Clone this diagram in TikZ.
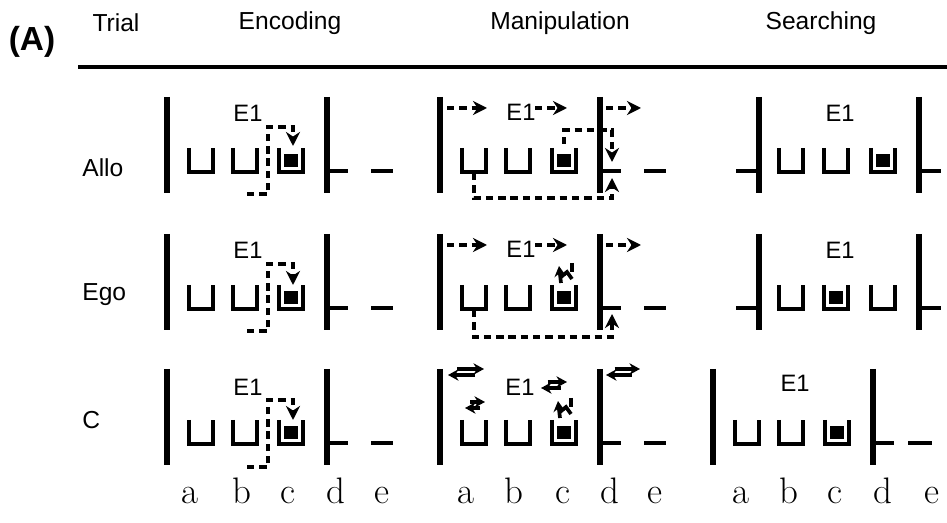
\documentclass[tikz,border=0pt]{standalone}
\usepackage{fontspec}
\setsansfont{Liberation Sans}
\usetikzlibrary{arrows.meta}

\tikzset{
  wall/.style={line width=3.4pt},
  rim/.style={line width=2.1pt},
  route/.style={line width=1.8pt, dash pattern=on 4.2pt off 2.8pt},
  headed/.style={-{Stealth[length=8pt,width=8pt]}},
  smallhead/.style={-{Stealth[length=6pt,width=6.5pt]}},
  heading/.style={font=\sffamily\fontsize{14}{16}\selectfont},
  panelmark/.style={font=\sffamily\bfseries\fontsize{19}{22}\selectfont},
  rowname/.style={font=\sffamily\fontsize{14}{16}\selectfont, anchor=west, inner sep=0pt},
  envname/.style={font=\sffamily\fontsize{13.5}{15}\selectfont},
  place/.style={font=\fontsize{21}{24}\selectfont, anchor=base}
}

\newcommand\wellcup[2]{\draw[rim] (#1-12,#2-24) -- (#1-12,#2) -- (#1+12,#2) -- (#1+12,#2-24);}
\newcommand\wellbait[2]{\fill (#1-7,#2-18) rectangle (#1+7,#2-5);}
\newcommand\wallbar[2]{\draw[wall] (#1,#2-75) -- (#1,#2+21);}
\newcommand\jiggle[3]{
  \draw[rim,smallhead] (#1-#3/2,#2-3) -- (#1+#3,#2-3);
  \draw[rim,smallhead] (#1+#3/2,#2+3) -- (#1-#3,#2+3);}
\newcommand\swirl[2]{
  \draw[rim,smallhead] (#1-5,#2+8) -- (#1-7,#2-9);
  \draw[rim] (#1-5,#2+2) -- (#1+1,#2-3) -- (#1+6,#2+4);
  \draw[rim] (#1+6,#2-12) -- (#1+6,#2-3);}

\begin{document}
\begin{tikzpicture}[x=0.02cm, y=-0.02cm]
\useasboundingbox (0,0) rectangle (947,523);

% heading
\node[panelmark] (panelA) at (32,42) {(A)};
\node[heading] (trial) at (116,23) {Trial};
\node[heading] (encoding) at (290,23) {Encoding};
\node[heading] (manipulation) at (560,23) {Manipulation};
\node[heading] (searching) at (821,23) {Searching};
\draw[line width=2.4pt] (78,67) -- (947,67);

\node[rowname] (allo) at (82,168) {Allo};
\node[rowname] (ego) at (82,295) {Ego};
\node[rowname] (ctrl) at (82,420) {C};

% Allo, encoding
\wallbar{167}{172} \wallbar{327}{172}
\wellcup{201}{172} \wellcup{245}{172} \wellcup{291}{172} \wellbait{291}{172}
\draw[rim] (327,171) -- (348,171);
\draw[rim] (371,171) -- (393,171);
\node[envname] (encAllo) at (248,113) {E1};
\draw[route,headed] (247,194) -- (268,194) -- (268,127) -- (293,127) -- (293,146);

% Allo, manipulation
\wallbar{440}{172} \wallbar{600}{172}
\wellcup{474}{172} \wellcup{518}{172} \wellcup{564}{172} \wellbait{564}{172}
\draw[rim] (600,171) -- (621,171);
\draw[rim] (644,171) -- (666,171);
\node[envname] (manAllo) at (521,112) {E1};
\draw[route,headed] (447,108) -- (487,108);
\draw[route,headed] (535,108) -- (567,108);
\draw[route,headed] (606,108) -- (641,108);
\draw[route,headed] (564,144) -- (564,130) -- (612,130) -- (612,162);
\draw[route,headed] (474,173) -- (474,198) -- (612,198) -- (612,178);

% Allo, searching
\wallbar{759}{172} \wallbar{919}{172}
\wellcup{791}{172} \wellcup{836}{172} \wellcup{883}{172} \wellbait{883}{172}
\draw[rim] (736,171) -- (759,171);
\draw[rim] (919,171) -- (941,171);
\node[envname] (seaAllo) at (840,113) {E1};

% Ego, encoding
\wallbar{167}{309} \wallbar{327}{309}
\wellcup{201}{309} \wellcup{245}{309} \wellcup{291}{309} \wellbait{291}{309}
\draw[rim] (327,308) -- (348,308);
\draw[rim] (371,308) -- (393,308);
\node[envname] (encEgo) at (248,250) {E1};
\draw[route,headed] (247,331) -- (268,331) -- (268,264) -- (293,264) -- (293,285);

% Ego, manipulation
\wallbar{440}{309} \wallbar{600}{309}
\wellcup{474}{309} \wellcup{518}{309} \wellcup{564}{309} \wellbait{564}{309}
\draw[rim] (600,308) -- (621,308);
\draw[rim] (644,308) -- (666,308);
\node[envname] (manEgo) at (521,249) {E1};
\draw[route,headed] (447,245) -- (487,245);
\draw[route,headed] (535,245) -- (567,245);
\draw[route,headed] (606,245) -- (641,245);
\swirl{566}{275}
\draw[route,headed] (474,310) -- (474,337) -- (612,337) -- (612,314);

% Ego, searching
\wallbar{759}{309} \wallbar{919}{309}
\wellcup{791}{309} \wellcup{836}{309} \wellcup{883}{309} \wellbait{836}{309}
\draw[rim] (736,308) -- (759,308);
\draw[rim] (919,308) -- (941,308);
\node[envname] (seaEgo) at (840,250) {E1};

% C, encoding
\wallbar{167}{444} \wallbar{327}{444}
\wellcup{201}{444} \wellcup{245}{444} \wellcup{291}{444} \wellbait{291}{444}
\draw[rim] (327,443) -- (348,443);
\draw[rim] (371,443) -- (393,443);
\node[envname] (encCtrl) at (248,387) {E1};
\draw[route,headed] (247,467) -- (268,467) -- (268,400) -- (293,400) -- (293,420);

% C, manipulation
\wallbar{440}{444} \wallbar{600}{444}
\wellcup{474}{444} \wellcup{518}{444} \wellcup{564}{444} \wellbait{564}{444}
\draw[rim] (600,443) -- (621,443);
\draw[rim] (644,443) -- (666,443);
\node[envname] (manCtrl) at (520,387) {E1};
\jiggle{466}{372}{18}
\jiggle{554}{385}{13}
\jiggle{623}{372}{17}
\jiggle{475}{405}{10}
\swirl{565}{410}

% C, searching
\wallbar{713}{444} \wallbar{873}{444}
\wellcup{747}{444} \wellcup{791}{444} \wellcup{837}{444} \wellbait{837}{444}
\draw[rim] (873,443) -- (894,443);
\draw[rim] (908,443) -- (932,443);
\node[envname] (seaCtrl) at (795,383) {E1};

% places
\node[place] (encA) at (190,503) {a}; \node[place] (encB) at (242,503) {b};
\node[place] (encC) at (288,503) {c}; \node[place] (encD) at (336,503) {d};
\node[place] (encE) at (382,503) {e};
\node[place] (manA) at (466,503) {a}; \node[place] (manB) at (514,503) {b};
\node[place] (manC) at (563,503) {c}; \node[place] (manD) at (610,503) {d};
\node[place] (manE) at (655,503) {e};
\node[place] (seaA) at (741,503) {a}; \node[place] (seaB) at (789,503) {b};
\node[place] (seaC) at (835,503) {c}; \node[place] (seaD) at (883,503) {d};
\node[place] (seaE) at (932,503) {e};
\end{tikzpicture}
\end{document}
